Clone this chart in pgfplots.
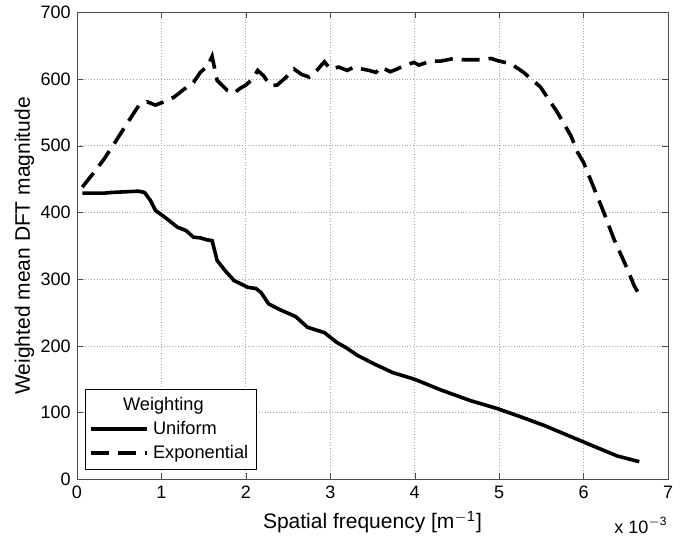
\documentclass[border=0pt]{standalone}
\usepackage{fontspec}
\setmainfont{Liberation Sans}
\usepackage{pgfplots}
\pgfplotsset{compat=1.18}

\pgfplotstableread{
x y
0.063 429
0.32 429
0.40 430
0.73 432
0.80 430
0.87 418
0.93 403
1.05 392
1.19 378
1.29 373
1.38 363
1.46 362
1.54 359
1.60 358
1.66 328
1.76 312
1.86 298
2.02 288
2.12 286
2.18 280
2.27 263
2.41 254
2.59 244
2.66 236
2.73 228
2.93 220
3.08 205
3.18 198
3.32 186
3.52 173
3.74 160
4.00 150
4.31 134
4.66 118
4.98 106
5.25 94
5.53 81
6.00 56
6.40 35
6.66 26.5
}\uniform

\pgfplotstableread{
x y
0.063 438
0.20 460
0.32 480
0.45 505
0.60 535
0.73 560
0.83 566
0.93 561
1.05 567
1.15 573
1.27 585
1.38 595
1.46 610
1.55 620
1.60 634
1.66 598
1.70 593
1.78 583
1.86 579
1.93 586
2.00 591
2.08 600
2.14 613
2.21 605
2.29 590
2.37 591
2.47 602
2.57 615
2.66 607
2.75 603
2.84 613
2.93 626
3.00 615
3.10 618
3.20 613
3.28 618
3.38 615
3.46 613
3.54 610
3.60 618
3.71 611
3.79 615
3.87 620
3.99 625
4.05 621
4.19 627
4.31 627
4.47 631
4.58 629
4.70 629
4.82 629
4.90 631
5.00 627
5.14 623
5.29 610
5.49 588
5.69 550
5.85 515
5.93 490
6.00 475
6.08 450
6.24 400
6.36 360
6.52 315
6.60 290
6.67 275
}\expo

\begin{document}
\fontsize{9}{11}\selectfont
\begin{tikzpicture}
\begin{axis}[
  width=295.5pt, height=233.5pt,
  scale only axis,
  clip mode=individual,
  xmin=0, xmax=7, ymin=0, ymax=700,
  xtick={0,1,...,7},
  ytick={0,100,...,700},
  tick align=inside,
  major tick length=3pt,
  grid=major,
  major grid style={densely dotted, gray!70, line width=0.4pt},
  axis line style={line width=0.5pt, gray!60!black},
  tick style={gray!60!black},
  /pgf/number format/assume math mode=true,
  tick label style={font=\fontsize{9}{11}\selectfont},
  label style={font=\fontsize{10.5}{12}\selectfont},
  xlabel={Spatial frequency [m\textsuperscript{$-$1}]},
  xlabel style={yshift=0pt},
  ylabel={Weighted mean DFT magnitude},
  ylabel style={yshift=-3pt},
  legend cell align=left,
  legend style={
    at={(0.0135,0.021)}, anchor=south west,
    draw=black, line width=0.5pt,
    font=\fontsize{9.1}{11}\selectfont,
    row sep=0pt, inner sep=2pt,
  },
  legend image code/.code={\draw[#1] (0pt,0pt) -- (28pt,0pt);},
]
\addlegendimage{empty legend}
\addlegendentry{\hspace{-15pt}Weighting}
\addplot[black, line width=1.8pt, no marks] table[x=x,y=y] {\uniform};
\addlegendentry{Uniform}
\addplot[black, line width=1.8pt, no marks, dash pattern=on 9pt off 4.5pt] table[x=x,y=y] {\expo};
\addlegendentry{Exponential}
\node[anchor=east, inner sep=0pt, yshift=-23pt, font=\fontsize{9}{10}\selectfont] at (rel axis cs:1,0) {x 10\textsuperscript{$-$3}};
\coordinate (bl) at (rel axis cs:0,0);
\coordinate (br) at (rel axis cs:1,0);
\end{axis}
% room round the axis as in the exported figure
\path ([xshift=-38.5pt,yshift=-29.5pt]bl) (br) ++(9pt,0);
\end{tikzpicture}
\end{document}
